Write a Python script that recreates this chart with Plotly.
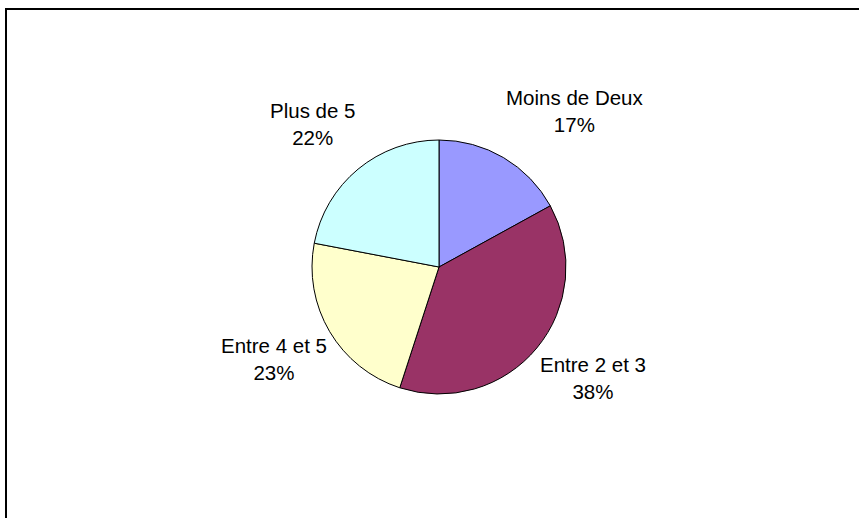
import math
import plotly.graph_objects as go

categories = ["Moins de Deux", "Entre 2 et 3", "Entre 4 et 5", "Plus de 5"]
values = [17, 38, 23, 22]
colors = ["#9999FF", "#993366", "#FFFFCC", "#CCFFFF"]

W, H = 859, 518
cx, cy, r = 439, 267, 127
lab_cy = cy - 7
lab_rx, lab_ry = 128, 142
FONT = "Liberation Sans, Arial, sans-serif"

fig = go.Figure(go.Pie(
    labels=categories,
    values=values,
    sort=False,
    direction="clockwise",
    rotation=0,
    marker=dict(colors=colors, line=dict(color="black", width=1)),
    textinfo="none",
    showlegend=False,
    hoverinfo="label+percent",
    domain=dict(x=[(cx - r) / W, (cx + r) / W], y=[(H - cy - r) / H, (H - cy + r) / H]),
))

# data labels placed just outside each slice, at its mid-angle
total = sum(values)
annotations = []
cum = 0
for lab, v in zip(categories, values):
    mid = (cum + v / 2) / total * 2 * math.pi
    cum += v
    s, c = math.sin(mid), math.cos(mid)
    px = cx + lab_rx * s
    py = lab_cy - lab_ry * c
    annotations.append(dict(
        x=px / W, y=1 - py / H, xref="paper", yref="paper",
        text=f"{lab}<br>{round(v / total * 100)}%",
        showarrow=False,
        xanchor="left" if s > 0 else "right",
        yanchor="bottom" if c > 0 else "top",
        align="center",
        font=dict(family=FONT, size=20.5, color="black"),
    ))

fig.update_layout(
    width=W, height=H,
    margin=dict(l=0, r=0, t=0, b=0),
    paper_bgcolor="white",
    plot_bgcolor="white",
    font=dict(family=FONT),
    annotations=annotations,
    shapes=[dict(type="rect", xref="paper", yref="paper",
                 x0=6 / W, x1=1.2, y0=-0.2, y1=1 - 9 / H,
                 line=dict(color="black", width=2), fillcolor="rgba(0,0,0,0)")],
)

fig.write_html("out.html", config={"displayModeBar": False},
               post_script="document.body.style.margin='0px';")
